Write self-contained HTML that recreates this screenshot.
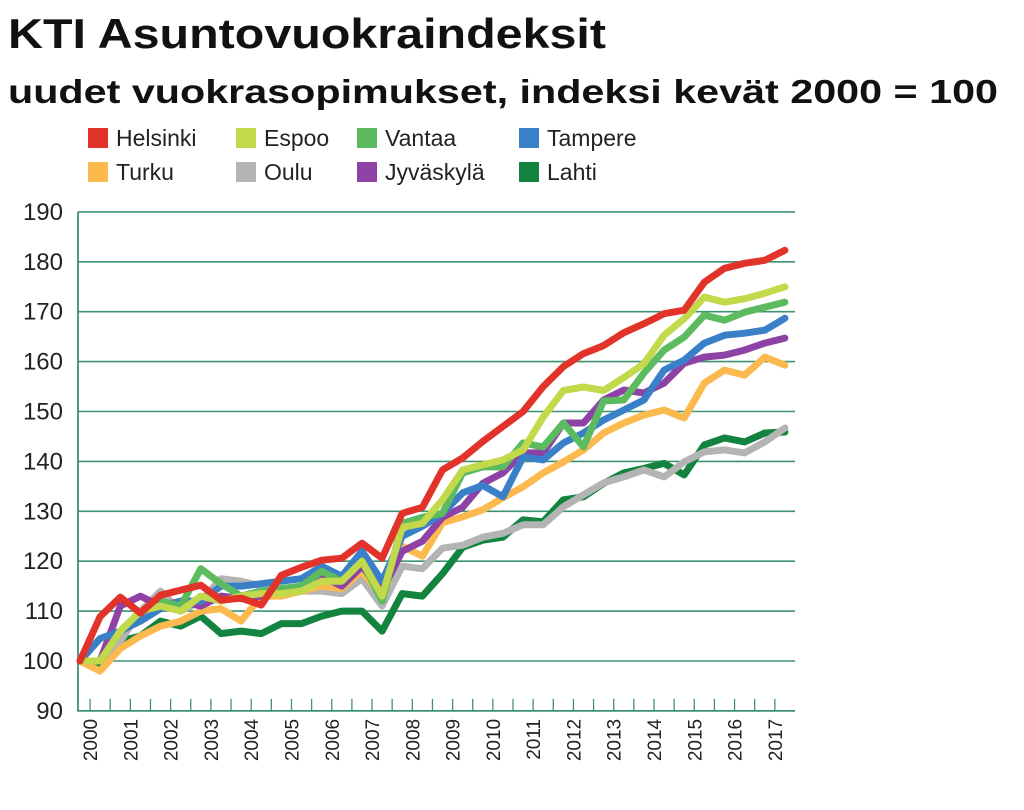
<!DOCTYPE html>
<html><head><meta charset="utf-8"><style>
html,body{margin:0;padding:0;background:#fff;width:1024px;height:810px;overflow:hidden}
svg{display:block;font-family:"Liberation Sans",sans-serif}
</style></head><body>
<svg id="c" width="1024" height="810">
<text x="8" y="48" font-size="42" font-weight="bold" fill="#111" textLength="598" lengthAdjust="spacingAndGlyphs">KTI Asuntovuokraindeksit</text>
<text x="8" y="103" font-size="33" font-weight="bold" fill="#111" textLength="990" lengthAdjust="spacingAndGlyphs">uudet vuokrasopimukset, indeksi kevät 2000 = 100</text>
<g id="grid"></g><g id="axes"></g><g id="series"></g><g id="legend"></g>
</svg>
<script>
const years=["2000","2001","2002","2003","2004","2005","2006","2007","2008","2009","2010","2011","2012","2013","2014","2015","2016","2017"];
const yTicks=[90,100,110,120,130,140,150,160,170,180,190];
const names=["Helsinki","Espoo","Vantaa","Tampere","Turku","Oulu","Jyväskylä","Lahti"];
const colors=["#e2332a","#c2d94b","#5cbb5e","#3a80c8","#fbb94e","#b4b4b4","#8f42a6","#12843f"];
const helsinki=[100,108.9,112.8,109.6,113.2,114.2,115.2,112.2,112.6,111.2,117.2,118.8,120.2,120.6,123.6,120.6,129.6,130.8,138.3,140.7,144,147,150,155,159,161.6,163.2,165.8,167.6,169.6,170.3,175.9,178.7,179.7,180.3,182.3];
const espoo=[100,100,106,110,111,110,113,112,113,113.5,113.5,114,116,116,120,113,126.8,127.6,132.3,138.3,139.3,140.3,142.3,148.9,154.2,154.9,154.2,156.8,159.6,165.3,168.6,172.9,171.9,172.6,173.7,175];
const vantaa=[100,100,106,110,112,111,118.5,115.5,113,114,114.5,115,118,116,120,112,127.6,128.8,129.6,137.7,138.9,138.9,143.7,142.9,147.7,142.9,152.1,152.3,157.7,162.3,164.9,169.3,168.3,169.9,170.9,171.9];
const tampere=[100,104.5,106,108,110.5,112,112,115,115,115.5,116,116.5,119,117,122,116,125,127,129.6,133.7,135.2,132.9,140.9,140.3,143.7,145.7,148.3,150.3,152.3,158.3,160.3,163.7,165.3,165.7,166.3,168.7];
const turku=[100,98,102.5,105,107,108,110,110.5,108,113,113,114,115,114.5,118,113,123,121,127.7,128.9,130.3,132.7,134.9,137.7,139.9,142.3,145.7,147.7,149.3,150.3,148.7,155.7,158.3,157.3,160.9,159.3];
const oulu=[100,100,104,110,114,110,112,116.5,116,115,114,114,114,113.5,116.5,111,119,118.5,122.6,123.2,124.8,125.6,127.3,127.3,130.9,133.3,135.7,136.9,138.3,136.9,139.9,141.9,142.3,141.7,143.9,146.7];
const jyvaskyla=[100,100,111,113,111,112,111,113,112.5,113,114,115,117,115,119,114,122,124,128.8,130.8,135.6,137.7,141.7,141.7,147.7,147.7,152.3,154.3,153.7,155.7,159.7,160.9,161.3,162.3,163.7,164.7];
const lahti=[100,99.5,104,105,108,107,109,105.5,106,105.5,107.5,107.5,109,110,110,106,113.5,113,117.5,122.8,124.2,124.8,128.3,127.9,132.3,132.9,135.6,137.7,138.6,139.6,137.3,143.3,144.7,143.9,145.7,145.9];
const seriesData=[helsinki,espoo,vantaa,tampere,turku,oulu,jyvaskyla,lahti];
const NS="http://www.w3.org/2000/svg";
const X0=80,DX=20.14,Y100=661,PPU=4.99,LEFT=78,RIGHT=795;
const xs=i=>X0+i*DX, ys=v=>Y100-(v-100)*PPU;
function mk(t,a,p){const e=document.createElementNS(NS,t);for(const k in a)e.setAttribute(k,a[k]);p.appendChild(e);return e;}
const grid=document.getElementById('grid'),axes=document.getElementById('axes'),ser=document.getElementById('series'),leg=document.getElementById('legend');
yTicks.forEach(v=>{
 if(v>90){const l=mk('line',{x1:LEFT,x2:RIGHT,y1:ys(v),y2:ys(v),stroke:'#3d9270','stroke-width':1.6},grid);
 
 }
 const t=mk('text',{x:63,y:ys(v)+8,'font-size':24,'text-anchor':'end',fill:'#222'},axes);t.textContent=v;
 
 
});
const ax=mk('path',{d:`M${LEFT} ${ys(190)} V${ys(90)} H${RIGHT}`,stroke:'#3d9270','stroke-width':1.8,fill:'none'},axes);


for(let k=0;k<helsinki.length-1;k++){const x=xs(k)+DX/2;
 const tk=mk('line',{x1:x,x2:x,y1:ys(90)-12,y2:ys(90),stroke:'#3d9270','stroke-width':1.3},axes);
 
 }
years.forEach((y,j)=>{const x=xs(2*j)+DX/2+7;
 const t=mk('text',{x:0,y:0,'font-size':19,'text-anchor':'end',fill:'#222',transform:`translate(${x},${ys(90)+8}) rotate(-90)`},axes);t.textContent=y;
 
 });
const order=[7,5,4,6,3,2,1,0];
order.forEach(s=>{const d=seriesData[s].map((v,i)=>(i?'L':'M')+xs(i).toFixed(1)+' '+ys(v).toFixed(1)).join(' ');
 const p=mk('path',{d:d,stroke:colors[s],'stroke-width':7,fill:'none','stroke-linejoin':'round','stroke-linecap':'round'},ser);
 
 });
const lx=[88,236,357,519];
names.forEach((n,i)=>{const x=lx[i%4],y=(i<4?128:162);
 const g=mk('g',{},leg);
 
 
 mk('rect',{x:x,y:y,width:20,height:20,fill:colors[i]},g);
 const t=mk('text',{x:x+28,y:y+18,'font-size':23,fill:'#222'},g);t.textContent=n;});
</script>
</body></html>
